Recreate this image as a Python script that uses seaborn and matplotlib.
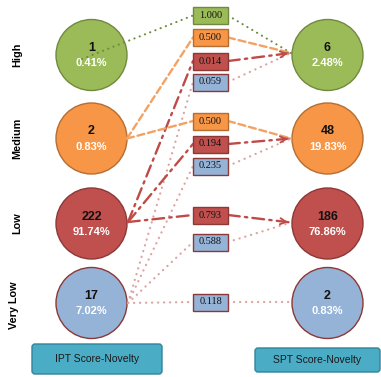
import numpy as np
import pandas as pd
import matplotlib
matplotlib.use("Agg")
import matplotlib.pyplot as plt
import seaborn as sns
from matplotlib.patches import Rectangle, FancyBboxPatch

# ---------------- data ----------------
levels = ["High", "Medium", "Low", "Very Low"]
ipt_counts = [1, 2, 222, 17]
ipt_pcts = ["0.41%", "0.83%", "91.74%", "7.02%"]
spt_counts = [6, 48, 186, 2]
spt_pcts = ["2.48%", "19.83%", "76.86%", "0.83%"]
trans_from = ["High", "Medium", "Low", "Very Low", "Medium", "Low", "Very Low",
              "Low", "Very Low", "Very Low"]
trans_to = ["High", "High", "High", "High", "Medium", "Medium", "Medium",
            "Low", "Low", "Very Low"]
trans_prob = [1.000, 0.500, 0.014, 0.059, 0.500, 0.194, 0.235, 0.793, 0.588, 0.118]
axis_titles = ["IPT Score-Novelty", "SPT Score-Novelty"]

# ---------------- layout / style ----------------
W, H = 381, 377
row_y = {"High": 55, "Medium": 138.5, "Low": 223.5, "Very Low": 303}
left_x, right_x, radius = 91.5, 327.5, 35.5
box_y = [15.5, 37.5, 61, 82, 121, 144, 166, 215, 242, 302]
box_x0, box_x1, box_h = 193, 228, 17
start_pt = {"High": (82, 59), "Medium": (127, 138.5), "Low": (128, 222),
            "Very Low": (128, 303)}
end_dy = {"High": -2, "Medium": 0, "Low": -1, "Very Low": -1}
fill = {"High": "#9BBB59", "Medium": "#F79646", "Low": "#C0504D", "Very Low": "#95B3D7"}
edge = {"High": "#71893F", "Medium": "#B66D31", "Low": "#8C3836", "Very Low": "#8C3836"}
line_col = {"High": "#6E8B3A", "Medium": "#F3A263", "Low": "#BE4B48", "Very Low": "#DBA3A2"}
line_ls = {"High": (0, (0.1, 2.6)), "Medium": (0, (3.0, 1.6)),
           "Low": (0, (5.0, 2.2, 1.0, 2.2)), "Very Low": (0, (0.1, 2.6))}
line_lw = {"High": 1.5, "Medium": 1.7, "Low": 1.7, "Very Low": 1.6}

sns.set_theme(style="white")
plt.rcParams["font.family"] = ["Liberation Sans", "DejaVu Sans"]

fig = plt.figure(figsize=(W / 100, H / 100), dpi=100)
ax = fig.add_axes([0, 0, 1, 1])
ax.set_xlim(0, W)
ax.set_ylim(H, 0)
ax.axis("off")

# circles via seaborn scatter
nodes = pd.DataFrame({
    "x": [left_x] * 4 + [right_x] * 4,
    "y": [row_y[l] for l in levels] * 2,
    "level": levels * 2,
})
diam_pt = 2 * radius * 72 / 100
sns.scatterplot(data=nodes, x="x", y="y", hue="level", palette=fill,
                hue_order=levels, s=diam_pt ** 2, legend=False, ax=ax,
                edgecolor=[edge[l] for l in nodes["level"]], linewidth=1.0,
                zorder=2)

for i, l in enumerate(levels):
    cy = row_y[l]
    for cx, cnt, pct in [(left_x, ipt_counts[i], ipt_pcts[i]),
                         (right_x, spt_counts[i], spt_pcts[i])]:
        ax.text(cx, cy - 7, str(cnt), ha="center", va="center", fontsize=9,
                fontweight="bold", color="#111111", zorder=3)
        ax.text(cx, cy + 8.5, pct, ha="center", va="center", fontsize=8,
                fontweight="bold", color="white", zorder=3)
    ax.text(17 if l != "Very Low" else 14, cy + (2 if l == "Very Low" else 0), l,
            rotation=90, ha="center", va="center", fontsize=7.8,
            fontweight="bold", color="black")

# transitions
for src, dst, p, by in zip(trans_from, trans_to, trans_prob, box_y):
    sx, sy = start_pt[src]
    ex, ey = right_x - radius - 1, row_y[dst] + end_dy[dst]
    kw = dict(color=line_col[src], ls=line_ls[src], lw=line_lw[src],
              dash_capstyle="round", solid_capstyle="round", zorder=4)
    ax.plot([sx, box_x0], [sy, by], **kw)
    ax.plot([box_x1, ex], [by, ey], **kw)
    if src == "Low":
        d = np.array([ex - box_x1, ey - by], float)
        d /= np.hypot(*d)
        ax.annotate("", xy=(ex, ey), xytext=(ex - 10 * d[0], ey - 10 * d[1]),
                    arrowprops=dict(arrowstyle="->", color=line_col[src],
                                    lw=1.3, mutation_scale=11), zorder=5)
    ax.add_patch(Rectangle((box_x0, by - box_h / 2), box_x1 - box_x0, box_h,
                           facecolor=fill[src], edgecolor=edge[src], lw=1.0,
                           zorder=6))
    ax.text((box_x0 + box_x1) / 2, by, f"{p:.3f}", ha="center", va="center",
            fontsize=7.4, family=["Liberation Serif", "DejaVu Serif"],
            color="#111111", zorder=7)

# axis title boxes
for (x0, y0, x1, y1), t in zip([(32, 344, 162, 374), (255, 348, 380, 372)], axis_titles):
    ax.add_patch(FancyBboxPatch((x0 + 3, y0 + 3), x1 - x0 - 6, y1 - y0 - 6,
                                boxstyle="round,pad=3", facecolor="#4BACC6",
                                edgecolor="#31849B", lw=1.0, zorder=2))
    ax.text((x0 + x1) / 2, (y0 + y1) / 2, t, ha="center", va="center",
            fontsize=7.5, color="#1A1A1A", zorder=3)

fig.savefig("out.png", dpi=100)
